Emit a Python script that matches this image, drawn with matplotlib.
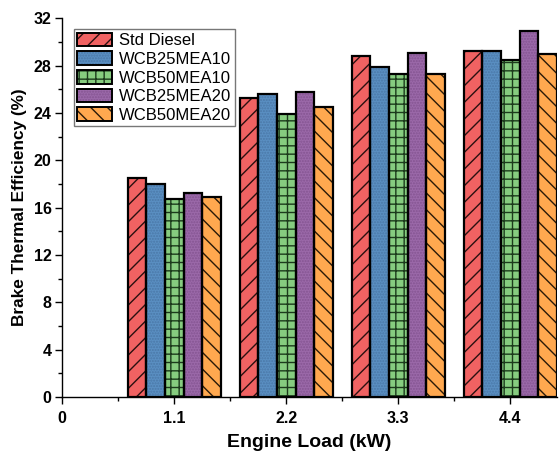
import matplotlib.pyplot as plt
import numpy as np
from matplotlib.patches import Patch
from matplotlib.ticker import MultipleLocator

loads = [1.1, 2.2, 3.3, 4.4]
tick_labels = ["0", "1.1", "2.2", "3.3", "4.4"]

fuels = ["Std Diesel", "WCB25MEA10", "WCB50MEA10", "WCB25MEA20", "WCB50MEA20"]
bte = {
    "Std Diesel": [18.5, 25.3, 28.8, 29.2],
    "WCB25MEA10": [18.0, 25.6, 27.9, 29.2],
    "WCB50MEA10": [16.7, 23.9, 27.3, 28.45],
    "WCB25MEA20": [17.2, 25.8, 29.1, 30.9],
    "WCB50MEA20": [16.9, 24.5, 27.3, 28.95],
}

# look of each series: fill colour, hatch, hatch colour
faces = ["#f06262", "#5a8fc2", "#86cc7f", "#9b69a9", "#ffa84f"]
hatches = ["//", "......", "++", "......", "\\\\"]
hatch_cols = ["#2a1010", "#4a78a8", "#1c3a1c", "#845491", "#2a1a08"]

plt.rcParams["font.family"] = ["Liberation Sans", "DejaVu Sans"]
plt.rcParams["hatch.linewidth"] = 1.0

fig = plt.figure(figsize=(5.6, 4.54), dpi=100)
ax = fig.add_axes([0.111, 0.1256, 0.884, 0.834])

width = 0.183
x = np.array(loads)
handles = []
for i, name in enumerate(fuels):
    pos = x + (i - 2) * width
    ax.bar(pos, bte[name], width, color=faces[i], hatch=hatches[i],
           edgecolor=hatch_cols[i], linewidth=0, zorder=2)
    ax.bar(pos, bte[name], width, fill=False, edgecolor="black",
           linewidth=1.6, zorder=3)
    h1 = Patch(facecolor=faces[i], hatch=hatches[i], edgecolor=hatch_cols[i], linewidth=0)
    h2 = Patch(fill=False, edgecolor="black", linewidth=1.4)
    handles.append((h1, h2))

ax.set_xlim(0, 4.86)
ax.set_ylim(0, 32)
ax.set_xticks([0] + loads)
ax.set_xticklabels(tick_labels)
ax.xaxis.set_minor_locator(MultipleLocator(0.55))
ax.yaxis.set_major_locator(MultipleLocator(4))
ax.yaxis.set_minor_locator(MultipleLocator(2))

for s in ["top", "right"]:
    ax.spines[s].set_visible(False)
for s in ["left", "bottom"]:
    ax.spines[s].set_linewidth(1.0)

ax.tick_params(which="major", direction="out", length=5, width=1.0, labelsize=11.5)
ax.tick_params(which="minor", direction="out", length=3, width=1.0)
ax.tick_params(axis="x", which="major", pad=5)
ax.tick_params(axis="y", which="major", pad=2.5)
for lab in ax.get_xticklabels() + ax.get_yticklabels():
    lab.set_fontweight("bold")

ax.set_xlabel("Engine Load (kW)", fontsize=14, fontweight="bold", labelpad=6)
ax.set_ylabel("Brake Thermal Efficiency (%)", fontsize=12.4, fontweight="bold", labelpad=5)

leg = ax.legend(handles, fuels, loc="upper left", bbox_to_anchor=(0.024, 0.971),
                fontsize=12, frameon=True, fancybox=False, borderpad=0.2,
                labelspacing=0.18, handlelength=2.1, handleheight=0.9,
                handletextpad=0.4, borderaxespad=0.0)
leg.get_frame().set_edgecolor("#555555")
leg.get_frame().set_linewidth(1.0)

fig.savefig("out.png", dpi=100)
